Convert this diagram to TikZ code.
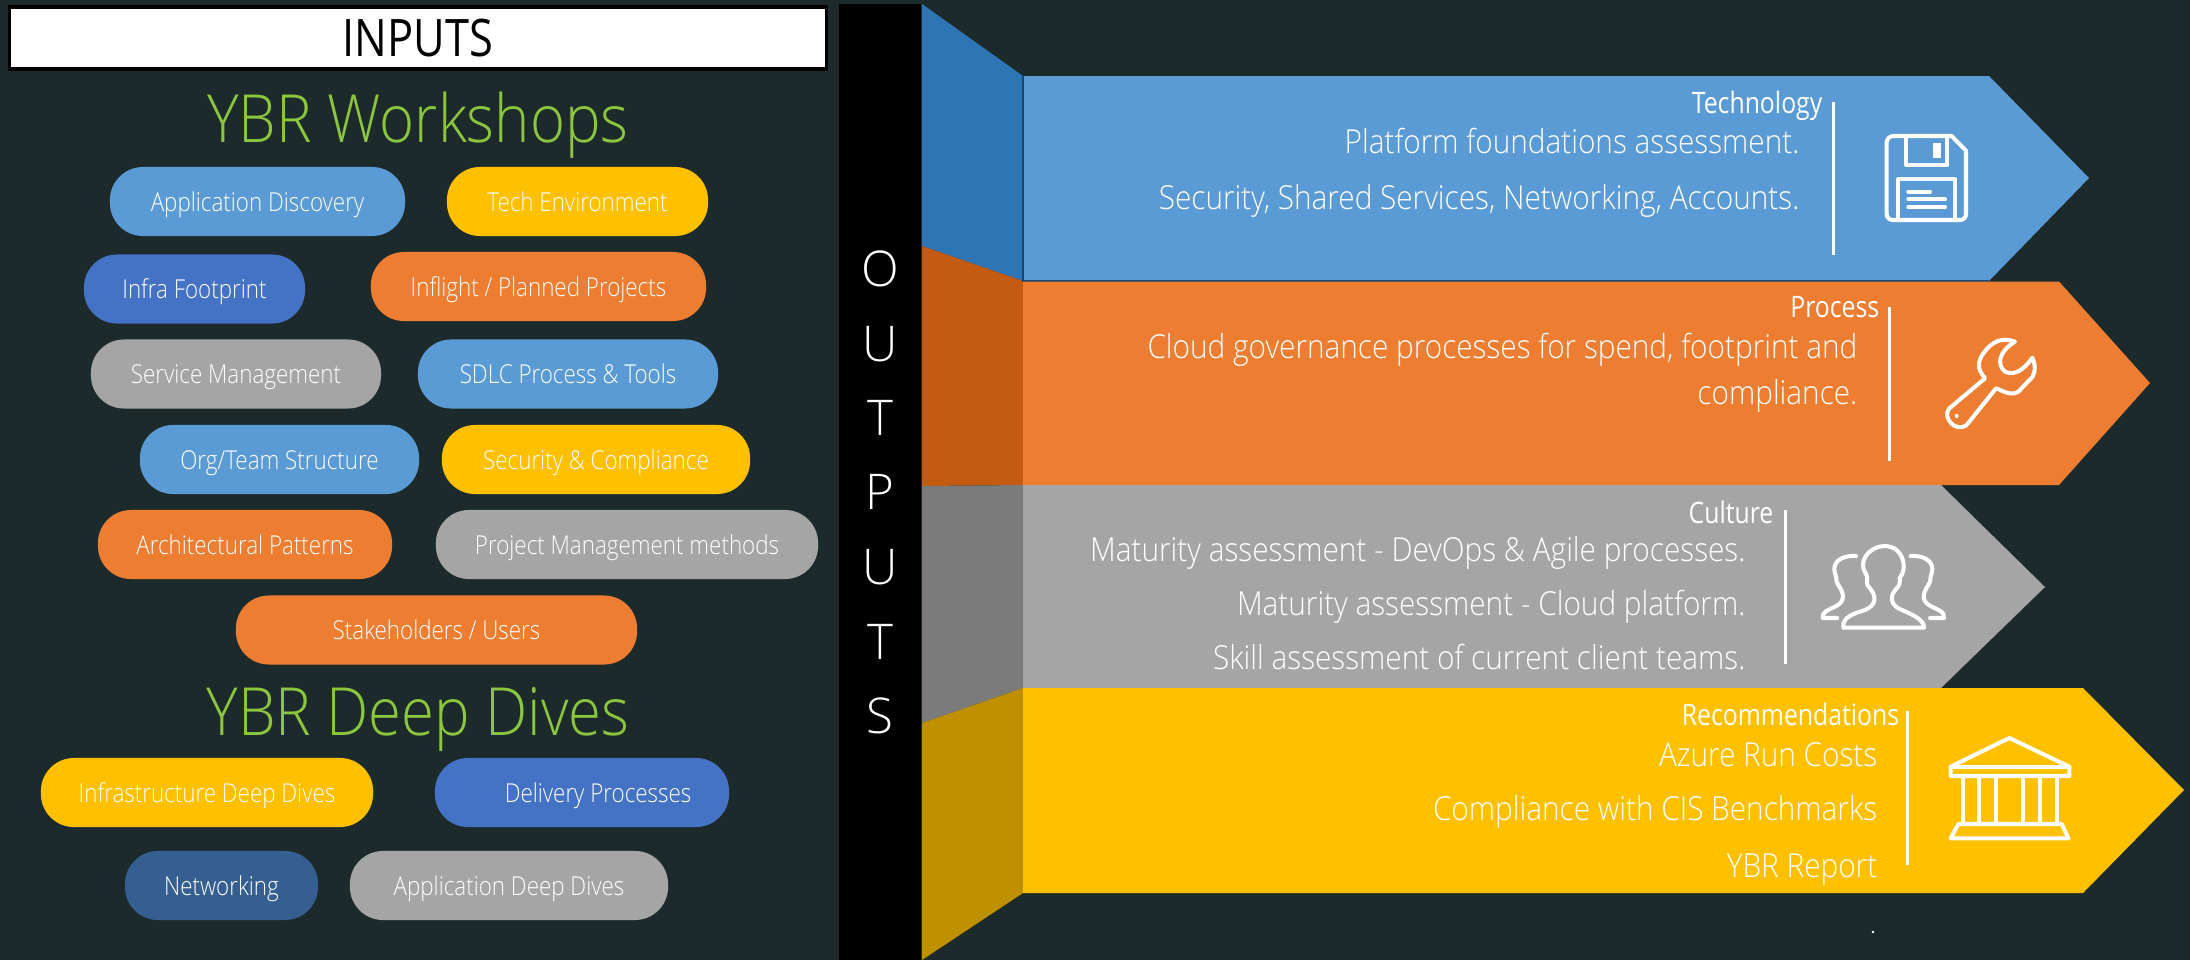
\documentclass[tikz,border=0pt]{standalone}
\usepackage{fontspec}
\usepackage{xcolor}
\usetikzlibrary{calc}
\setmainfont{Open Sans Light}
\newfontfamily\pillfont[FakeStretch=0.86]{Open Sans Light}
\newfontfamily\headfont[FakeStretch=0.9]{Open Sans Light}
\newfontfamily\hdrfont[FakeStretch=0.84]{Open Sans}
\definecolor{bgdark}{HTML}{1C2A2C}
\definecolor{blue}{HTML}{5B9BD5}
\definecolor{orange}{HTML}{ED7D31}
\definecolor{grey}{HTML}{A5A5A5}
\definecolor{yellow}{HTML}{FFC000}
\definecolor{royal}{HTML}{4472C4}
\definecolor{navy}{HTML}{355F91}
\definecolor{lime}{HTML}{8CC63E}
\definecolor{sideblue}{HTML}{2E75B6}
\definecolor{sideorange}{HTML}{C55A11}
\definecolor{sidegrey}{HTML}{7B7B7B}
\definecolor{sidegold}{HTML}{BF9000}
\tikzset{
  pill/.style={rounded corners=0.33cm, minimum height=0.69cm, inner sep=0pt, text=white,
    text height=0.22cm, text depth=0.03cm, font=\pillfont\fontsize{7.4}{8}\selectfont},
  hdr/.style={text=white, inner sep=0pt, anchor=base east, font=\hdrfont\fontsize{8.4}{10}\selectfont},
  body/.style={text=white, inner sep=0pt, anchor=base east, font=\headfont\fontsize{9.4}{11}\selectfont},
  title/.style={text=lime, inner sep=0pt, anchor=base, font=\headfont\fontsize{18.9}{20}\selectfont},
  letter/.style={text=white, inner sep=0pt, anchor=base, font=\fontsize{14}{16}\selectfont},
  sep/.style={draw=white, line width=0.85pt},
  icon/.style={draw=white, line width=1.15pt, line join=round, line cap=round}
}
\begin{document}
\begin{tikzpicture}[x=0.01cm,y=-0.01cm]
  \useasboundingbox (0,0) rectangle (2190,960);
  \fill[bgdark] (0,0) rectangle (2190,960);

  % inputs
  \node[draw=black, fill=white, line width=0.9pt, minimum width=8.16cm, minimum height=0.62cm, inner sep=0pt,
    font=\hdrfont\fontsize{14.7}{16}\selectfont] (inputs) at (418,38) {INPUTS};
  \node[title] (workshops) at (418,142) {YBR Workshops};
  \node[title] (deepdives) at (418,735) {YBR Deep Dives};

  \node[pill, fill=blue, minimum width=2.95cm] (appdisc) at (257.5,201.5) {Application Discovery};
  \node[pill, fill=yellow, minimum width=2.61cm] (techenv) at (577.5,201.5) {Tech Environment};
  \node[pill, fill=royal, minimum width=2.21cm] (infra) at (194.5,289) {Infra Footprint};
  \node[pill, fill=orange, minimum width=3.35cm] (inflight) at (538.5,286.5) {Inflight / Planned Projects};
  \node[pill, fill=grey, minimum width=2.90cm] (service) at (236,374) {Service Management};
  \node[pill, fill=blue, minimum width=3.00cm] (sdlc) at (568,374) {SDLC Process \& Tools};
  \node[pill, fill=blue, minimum width=2.79cm] (org) at (279.5,459.5) {Org/Team Structure};
  \node[pill, fill=yellow, minimum width=3.08cm] (security) at (596,459.5) {Security \& Compliance};
  \node[pill, fill=orange, minimum width=2.94cm] (arch) at (245,544.5) {Architectural Patterns};
  \node[pill, fill=grey, minimum width=3.82cm] (project) at (627,544.5) {Project Management methods};
  \node[pill, fill=orange, minimum width=4.01cm] (stake) at (436.5,630) {Stakeholders / Users};
  \node[pill, fill=yellow, minimum width=3.32cm] (infradeep) at (207,792.5) {Infrastructure Deep Dives};
  \node[pill, fill=royal, minimum width=2.94cm] (delivery) at (582,792.5) {\hspace{0.32cm}Delivery Processes};
  \node[pill, fill=navy, minimum width=1.93cm] (network) at (221.5,885.5) {Networking};
  \node[pill, fill=grey, minimum width=3.18cm] (appdeep) at (509,885.5) {Application Deep Dives\hspace{0.08cm}};

  % outputs bar
  \fill[black] (839,4) rectangle (921,960);
  \node[letter] (o1) at (880,286) {O};
  \node[letter] (u1) at (880,361) {U};
  \node[letter] (t1) at (880,435) {T};
  \node[letter] (p1) at (880,509) {P};
  \node[letter] (u2) at (880,584) {U};
  \node[letter] (t2) at (880,659) {T};
  \node[letter] (s1) at (880,733) {S};

  % side faces
  \fill[sideblue] (922,4)--(1023,76)--(1023,281)--(922,246)--cycle;
  \fill[sideorange] (922,246)--(1023,281)--(1023,485)--(922,486)--cycle;
  \fill[sidegrey] (922,486)--(1023,485)--(1023,688)--(922,723)--cycle;
  \fill[sidegold] (922,723)--(1023,688)--(1023,893)--(922,960)--cycle;

  % arrows
  \fill[blue] (1023,76)--(1989,76)--(2089,178)--(1989,281)--(1023,281)--cycle;
  \draw[sideblue!60!black, line width=0.5pt] (1023,76)--(1023,281)--(1989,281);
  \fill[orange] (1023,281.5)--(2059,281.5)--(2150,383)--(2059,485)--(1023,485)--cycle;
  \fill[grey] (1023,485)--(1941,485)--(2045,587)--(1941,688)--(1023,688)--cycle;
  \fill[yellow] (1023,688)--(2083,688)--(2184,790)--(2083,893)--(1023,893)--cycle;

  \draw[sep] (1833,102)--(1833,255);
  \draw[sep] (1889,307)--(1889,461);
  \draw[sep] (1785,510)--(1785,664);
  \draw[sep] (1907,711)--(1907,865);

  \node[hdr] (techhdr) at (1823,113) {Technology};
  \node[body] (tech1) at (1800,153) {Platform foundations assessment.};
  \node[body] (tech2) at (1800,209) {Security, Shared Services, Networking, Accounts.};
  \node[hdr] (prochdr) at (1880,317) {Process};
  \node[body] (proc1) at (1858,358) {Cloud governance processes for spend, footprint and};
  \node[body] (proc2) at (1858,404) {compliance.};
  \node[hdr] (culthdr) at (1774,523) {Culture};
  \node[body] (cult1) at (1746,561) {Maturity assessment - DevOps \& Agile processes.};
  \node[body] (cult2) at (1746,615) {Maturity assessment - Cloud platform.};
  \node[body] (cult3) at (1746,669) {Skill assessment of current client teams.};
  \node[hdr] (rechdr) at (1900,725) {Recommendations};
  \node[body] (rec1) at (1878,766) {Azure Run Costs};
  \node[body] (rec2) at (1878,820) {Compliance with CIS Benchmarks};
  \node[body] (rec3) at (1878,877) {YBR Report};

  % floppy
  \begin{scope}[shift={(1700,60)},scale=1/3]
    \draw[icon] (580,228)--(755,228)--(798,272)--(798,462) to[out=-90,in=0] (780,480)--(578,480) to[out=180,in=-90] (560,462)--(560,248) to[out=90,in=180] (580,228)--cycle;
    \draw[icon] (618,230)--(618,315)--(742,315)--(742,230);
    \fill[white] (700,248) rectangle (722,295);
    \draw[icon] (595,480)--(595,358)--(765,358)--(765,480);
    \draw[icon] (625,395)--(690,395) (625,418)--(735,418) (625,442)--(735,442);
  \end{scope}

  % wrench
  \begin{scope}[shift={(1700,60)},scale=1/3]
    \draw[icon] (855,955)--(748,1045) .. controls (725,1070) and (765,1120) .. (800,1095)
      --(888,985) .. controls (905,990) and (930,1010) .. (955,995)
      --(998,950) .. controls (1008,930) and (1005,910) .. (997,893)
      .. controls (975,925) and (945,950) .. (915,935)
      .. controls (890,915) and (895,875) .. (945,845)
      .. controls (905,830) and (875,845) .. (850,880)
      .. controls (825,915) and (840,935) .. (855,955)--cycle;
    \fill[white] (770,1068) circle (6);
  \end{scope}

  % people
  \begin{scope}[shift={(1700,480)},scale=1/3]
    \draw[icon] (430,443)--(672,443) .. controls (675,415) and (615,395) .. (595,385)
      .. controls (570,370) and (570,345) .. (590,325)
      .. controls (610,305) and (590,295) .. (605,285)
      .. controls (620,260) and (610,200) .. (555,198)
      .. controls (500,200) and (475,250) .. (497,280)
      .. controls (510,295) and (490,305) .. (510,325)
      .. controls (530,350) and (530,375) .. (495,390)
      .. controls (465,400) and (425,410) .. (430,443)--cycle;
    \draw[icon] (468,228) .. controls (420,225) and (395,250) .. (405,280)
      .. controls (412,295) and (405,300) .. (415,315)
      .. controls (435,345) and (435,365) .. (405,380)
      .. controls (385,390) and (365,395) .. (368,414)--(412,414);
    \draw[icon] (632,228) .. controls (680,225) and (705,250) .. (695,280)
      .. controls (688,295) and (695,300) .. (685,315)
      .. controls (665,345) and (665,365) .. (695,380)
      .. controls (715,390) and (735,395) .. (732,414)--(690,414);
  \end{scope}

  % temple
  \begin{scope}[shift={(1700,480)},scale=1/3]
    \draw[icon] (752,860)--(928,774)--(1108,860)--(1108,888)--(752,888)--cycle;
    \draw[icon] (752,860)--(1108,860);
    \draw[icon] (788,888)--(788,1030) (838,888)--(838,1030) (888,888)--(888,1030);
    \draw[icon] (970,888)--(970,1030) (1020,888)--(1020,1030) (1070,888)--(1070,1030);
    \draw[icon] (775,1032)--(1085,1032)--(1105,1075)--(752,1075)--cycle;
  \end{scope}

  \fill[white] (1873,932) circle (1.3);
\end{tikzpicture}
\end{document}
